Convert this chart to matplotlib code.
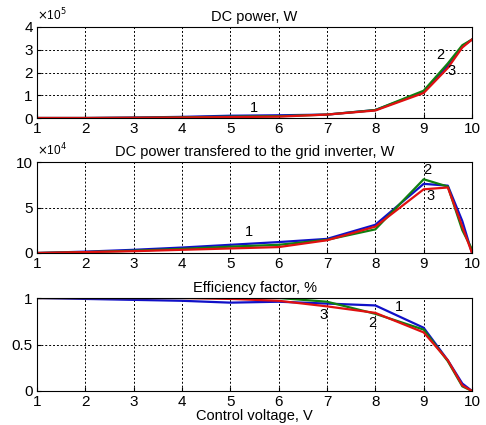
import matplotlib
matplotlib.use("Agg")
import matplotlib.pyplot as plt

plt.rcParams['font.family'] = ['Liberation Sans', 'DejaVu Sans']

x = [1, 2, 3, 4, 5, 6, 7, 8, 9, 9.5, 9.8, 10]

# DC power (x1e5 W)
p_blue = [0, 0, 0.02, 0.05, 0.1, 0.12, 0.15, 0.35, 1.15, 2.3, 3.15, 3.45]
p_green = [0, 0, 0.01, 0.03, 0.06, 0.08, 0.15, 0.35, 1.2, 2.4, 3.2, 3.45]
p_red = [0, 0, 0.01, 0.02, 0.04, 0.06, 0.15, 0.33, 1.1, 2.2, 3.1, 3.45]

# DC power transferred (x1e4 W)
g_blue = [0, 0.15, 0.35, 0.6, 0.9, 1.2, 1.55, 3.1, 7.6, 7.4, 3.5, 0]
g_green = [0, 0.1, 0.25, 0.45, 0.7, 0.9, 1.45, 2.6, 8.1, 7.3, 2.5, 0.4]
g_red = [0, 0.1, 0.2, 0.35, 0.5, 0.65, 1.4, 2.9, 7.0, 7.2, 2.9, 0]

# Efficiency
e_blue = [1.0, 0.99, 0.98, 0.97, 0.95, 0.96, 0.94, 0.92, 0.68, 0.33, 0.08, 0]
e_green = [1.0, 1.0, 1.0, 1.0, 1.0, 1.0, 0.96, 0.83, 0.66, 0.32, 0.05, 0]
e_red = [1.0, 1.0, 1.0, 1.0, 0.99, 0.97, 0.91, 0.84, 0.63, 0.33, 0.06, 0]

xticks = [1, 2, 3, 4, 5, 6, 7, 8, 9, 10]

W, H = 486, 425
fig = plt.figure(figsize=(W / 100, H / 100), dpi=100)

def ax_at(left, top, right, bottom):
    return fig.add_axes([left / W, 1 - bottom / H, (right - left) / W, (bottom - top) / H])

axes = [ax_at(37, 27, 472, 118), ax_at(37, 162, 472, 253), ax_at(37, 298, 472, 391)]
data = [(p_blue, p_green, p_red), (g_blue, g_green, g_red), (e_blue, e_green, e_red)]
titles = ['DC power, W', 'DC power transfered to the grid inverter, W', 'Efficiency factor, %']
ylims = [(0, 4), (0, 10), (0, 1)]
yticks = [[0, 1, 2, 3, 4], [0, 5, 10], [0, 0.5, 1]]
yticklabels = [['0', '1', '2', '3', '4'], ['0', '5', '10'], ['0', '0.5', '1']]

for ax, (b, g, r), t, yl, yt, ytl in zip(axes, data, titles, ylims, yticks, yticklabels):
    ax.plot(x, b, color='#1010c8', lw=1.6)
    ax.plot(x, g, color='#108010', lw=1.6)
    ax.plot(x, r, color='#e01010', lw=1.6)
    ax.set_xlim(1, 10)
    ax.set_ylim(*yl)
    ax.set_xticks(xticks)
    ax.set_yticks(yt)
    ax.set_yticklabels(ytl)
    ax.grid(True, color='black', linestyle=(0, (2, 2)), lw=0.7)
    ax.tick_params(direction='in', labelsize=11, pad=3, length=3)
    ax.set_title(t, fontsize=10.5, pad=4)
    for s in ax.spines.values():
        s.set_color('black')
        s.set_linewidth(0.8)

axes[0].text(0.0, 1.04, r'$\times$10$^5$', transform=axes[0].transAxes, fontsize=8.5, ha='left', va='bottom')
axes[1].text(0.0, 1.04, r'$\times$10$^4$', transform=axes[1].transAxes, fontsize=8.5, ha='left', va='bottom')

axes[0].text(5.4, 0.25, '1', fontsize=10.5)
axes[0].text(9.25, 2.6, '2', fontsize=10.5)
axes[0].text(9.5, 1.9, '3', fontsize=10.5)

axes[1].text(5.3, 1.9, '1', fontsize=10.5)
axes[1].text(9.0, 8.7, '2', fontsize=10.5)
axes[1].text(9.05, 5.8, '3', fontsize=10.5)

axes[2].text(8.4, 0.86, '1', fontsize=10.5)
axes[2].text(7.85, 0.69, '2', fontsize=10.5)
axes[2].text(6.85, 0.77, '3', fontsize=10.5)

axes[2].set_xlabel('Control voltage, V', fontsize=10.5, labelpad=0)

fig.savefig('out.png', dpi=100)
